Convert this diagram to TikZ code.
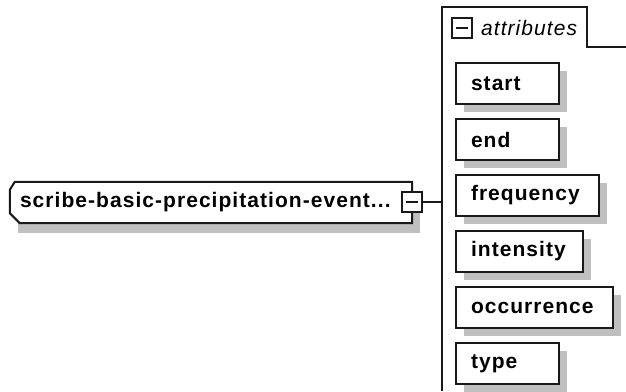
\documentclass[tikz,border=0pt]{standalone}
\usepackage{fontspec}
\setmainfont{Liberation Sans}[LetterSpace=5]
\usetikzlibrary{positioning, shadows, calc}

\begin{document}
\begin{tikzpicture}[
        x=1pt, y=1pt,
        elembox/.style={rectangle, fill=white, minimum width=402pt, minimum height=41pt, inner xsep=10pt, text width=382pt, align=left, font=\fontsize{21pt}{25pt}\selectfont\bfseries, drop shadow={shadow xshift=8pt, shadow yshift=-10pt, fill=black!25, opacity=1}},
        attrbox/.style={rectangle, draw=black!90, line width=2pt, fill=white, minimum height=41pt, inner xsep=15pt, text width=#1, align=left, font=\fontsize{21pt}{25pt}\selectfont\bfseries, drop shadow={shadow xshift=8pt, shadow yshift=-8pt, fill=black!25, opacity=1}},
        minusbox/.style={rectangle, draw=black!90, line width=2pt, fill=white, minimum size=20pt, inner sep=0pt, path picture={\draw[line width=2pt] ([xshift=4pt]path picture bounding box.west) -- ([xshift=-4pt]path picture bounding box.east);}},
        conn/.style={line width=2pt, black!90},
    ]
        \useasboundingbox (0,0) rectangle (626,391);

        % Element
        \node[elembox] (main) at (211,188.5) {scribe-basic-precipitation-event...};
        \draw[conn] ([xshift=5pt]main.north west) -- (main.north east) -- (main.south east)
            -- ([xshift=10pt]main.south west) -- ([yshift=10pt]main.south west)
            -- ([yshift=-8pt]main.north west) -- cycle;
        \node[minusbox] (mainminus) at (main.east) {};

        % Attribute group
        \coordinate (grpbot) at (442,0);
        \coordinate (grptop) at (442,384);
        \coordinate (tabend) at (587,344);
        \coordinate (grpright) at (626,344);
        \draw[conn, line width=1.8pt] (grpbot) -- (grptop) -| (tabend) -- (grpright);
        \node[minusbox] (tabminus) at (462,363) {};
        \node[right=8pt of tabminus, inner sep=0pt, font=\fontsize{21pt}{25pt}\selectfont\itshape] (grplabel) {attributes};

        % Attributes
        \node[attrbox=73pt, anchor=north west] (start) at (455,329) {start};
        \node[attrbox=73pt, below=13pt of start.south west, anchor=north west] (end) {end};
        \node[attrbox=113pt, below=13pt of end.south west, anchor=north west] (freq) {frequency};
        \node[attrbox=97pt, below=13pt of freq.south west, anchor=north west] (intens) {intensity};
        \node[attrbox=127pt, below=13pt of intens.south west, anchor=north west] (occur) {occurrence};
        \node[attrbox=73pt, below=13pt of occur.south west, anchor=north west] (type) {type};

        % Connector
        \draw[conn] (mainminus.east) -- (mainminus.east -| grpbot);
    \end{tikzpicture}
\end{document}
